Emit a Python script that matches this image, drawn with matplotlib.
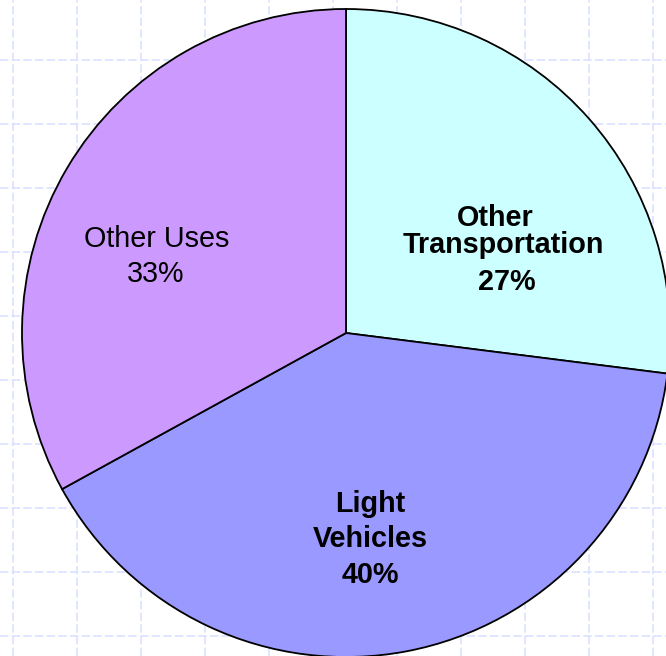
import matplotlib
import matplotlib.pyplot as plt

matplotlib.rcParams['font.family'] = ['Liberation Sans', 'DejaVu Sans']

# share of use, percent
categories = ['Other Transportation', 'Light Vehicles', 'Other Uses']
shares = [27, 40, 33]
colors = ['#CCFFFF', '#9999FF', '#CC99FF']

W, H = 666, 656
fig = plt.figure(figsize=(W / 100, H / 100), dpi=100)
ax = fig.add_axes([0, 0, 1, 1])

# dashed background grid, 64 px cells
for gx in range(13, W, 64):
    ax.axvline(gx, color='#DAE2FF', lw=1.2, ls=(0, (5, 2)), zorder=0)
for gy in range(60, H, 64):
    ax.axhline(H - gy, color='#DAE2FF', lw=1.2, ls=(0, (5, 2)), zorder=0)

cx, cy, r = 346, H - 333, 324
ax.pie(shares, colors=colors, startangle=90, counterclock=False,
       center=(cx, cy), radius=r,
       wedgeprops=dict(edgecolor='black', linewidth=1.3))

ax.set_xlim(0, W)
ax.set_ylim(0, H)
ax.set_aspect('equal')
ax.axis('off')

# label lines: (text, x, baseline y from top, bold)
lines = [
    ('Other', 495, 226, True),
    ('Transportation', 503, 253, True),
    (f'{shares[0]}%', 507, 290, True),
    ('Light', 370, 512, True),
    ('Vehicles', 370, 547, True),
    (f'{shares[1]}%', 370, 583, True),
    ('Other Uses', 157, 247, False),
    (f'{shares[2]}%', 156, 282, False),
]
for txt, x, y, bold in lines:
    ax.text(x, H - y, txt, ha='center', va='baseline', fontsize=20.7,
            fontweight='bold' if bold else 'normal', color='black')

fig.savefig('out.png', dpi=100)
